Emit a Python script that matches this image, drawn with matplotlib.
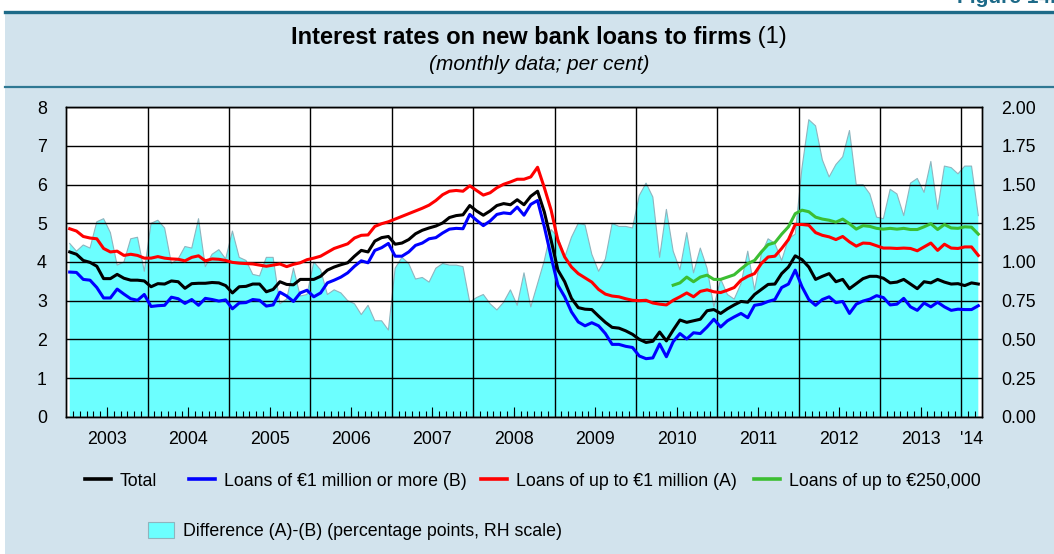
import numpy as np
import matplotlib
matplotlib.use("Agg")
import matplotlib.pyplot as plt
from matplotlib.lines import Line2D
from matplotlib.patches import Rectangle, Patch

plt.rcParams['font.family'] = ['Liberation Sans', 'DejaVu Sans']

# ---------------------------------------------------------------- data
# Monthly series, January 2003 - March 2014 (per cent)
START_YEAR = 2003
total = [
    4.26, 4.20, 4.04, 3.99, 3.89, 3.57, 3.57, 3.68, 3.58, 3.53, 3.53, 3.51,
    3.36, 3.44, 3.43, 3.51, 3.49, 3.32, 3.44, 3.45, 3.45, 3.47,
    3.46, 3.39, 3.20, 3.36, 3.37, 3.43, 3.43, 3.23, 3.29, 3.49, 3.42, 3.41,
    3.55, 3.55, 3.55, 3.63, 3.79, 3.87, 3.93, 3.98, 4.15, 4.30,
    4.26, 4.54, 4.63, 4.66, 4.46, 4.49, 4.58, 4.73, 4.82, 4.88, 4.93, 5.01,
    5.15, 5.20, 5.22, 5.46, 5.32, 5.21, 5.32, 5.46, 5.51, 5.48,
    5.61, 5.48, 5.70, 5.83, 5.29, 4.56, 3.79, 3.49, 3.06, 2.82, 2.78, 2.77,
    2.60, 2.44, 2.31, 2.29, 2.22, 2.13, 2.00, 1.92, 1.95, 2.19, 1.96,
    2.24, 2.50, 2.44, 2.48, 2.52, 2.74, 2.77, 2.67, 2.79, 2.89, 2.98, 2.96,
    3.16, 3.29, 3.42, 3.43, 3.70, 3.87, 4.16, 4.06, 3.87, 3.55,
    3.63, 3.70, 3.49, 3.55, 3.31, 3.44, 3.57, 3.63, 3.63, 3.58, 3.46, 3.48,
    3.55, 3.43, 3.31, 3.49, 3.46, 3.55, 3.48, 3.43, 3.44, 3.39, 3.46, 3.43,
]
large_loans_b = [
    3.74, 3.73, 3.55, 3.53, 3.34, 3.07, 3.07, 3.30, 3.17, 3.05, 3.01, 3.16,
    2.85, 2.87, 2.88, 3.09, 3.05, 2.93, 3.03, 2.88, 3.06, 3.03,
    2.99, 3.02, 2.79, 2.94, 2.95, 3.03, 3.01, 2.86, 2.89, 3.22, 3.12, 2.98,
    3.20, 3.27, 3.10, 3.20, 3.46, 3.53, 3.61, 3.72, 3.89, 4.03,
    3.98, 4.30, 4.37, 4.48, 4.15, 4.15, 4.26, 4.43, 4.49, 4.60, 4.63, 4.75,
    4.85, 4.87, 4.86, 5.23, 5.08, 4.94, 5.06, 5.23, 5.27, 5.25,
    5.42, 5.21, 5.49, 5.59, 4.91, 4.13, 3.40, 3.10, 2.71, 2.45, 2.35, 2.43,
    2.35, 2.15, 1.87, 1.87, 1.82, 1.79, 1.57, 1.50, 1.52, 1.88, 1.55,
    1.94, 2.15, 2.01, 2.17, 2.15, 2.32, 2.52, 2.32, 2.48, 2.58, 2.67, 2.56,
    2.88, 2.91, 2.98, 3.03, 3.34, 3.43, 3.79, 3.36, 3.03, 2.88,
    3.03, 3.10, 2.95, 2.98, 2.67, 2.91, 2.99, 3.04, 3.13, 3.08, 2.89, 2.91,
    3.06, 2.84, 2.75, 2.94, 2.84, 2.96, 2.84, 2.75, 2.78, 2.77, 2.77, 2.87,
]
small_loans_a = [
    4.86, 4.80, 4.66, 4.62, 4.60, 4.35, 4.26, 4.28, 4.17, 4.20, 4.17, 4.10,
    4.10, 4.14, 4.10, 4.08, 4.07, 4.03, 4.12, 4.16, 4.03, 4.08,
    4.07, 4.04, 3.99, 3.97, 3.96, 3.95, 3.92, 3.89, 3.92, 3.95, 3.88, 3.94,
    3.98, 4.06, 4.10, 4.15, 4.25, 4.35, 4.41, 4.47, 4.62, 4.69,
    4.70, 4.92, 4.99, 5.04, 5.11, 5.18, 5.25, 5.32, 5.39, 5.47, 5.59, 5.74,
    5.83, 5.85, 5.83, 5.97, 5.85, 5.73, 5.79, 5.92, 6.01, 6.07,
    6.14, 6.14, 6.20, 6.45, 5.92, 5.34, 4.56, 4.13, 3.87, 3.70, 3.59, 3.48,
    3.29, 3.17, 3.12, 3.10, 3.05, 3.01, 3.00, 3.01, 2.94, 2.91, 2.89,
    3.01, 3.10, 3.20, 3.10, 3.24, 3.28, 3.23, 3.21, 3.27, 3.34, 3.53, 3.63,
    3.70, 3.96, 4.13, 4.15, 4.35, 4.58, 4.97, 4.97, 4.95, 4.76,
    4.69, 4.65, 4.58, 4.66, 4.52, 4.41, 4.49, 4.48, 4.42, 4.36, 4.36, 4.35,
    4.36, 4.35, 4.29, 4.39, 4.49, 4.30, 4.46, 4.36, 4.35, 4.39, 4.39, 4.17,
]
# Loans up to EUR 250,000: available from June 2010 (month index 89)
SMALLEST_START = 89
smallest_loans = [
    3.40, 3.46, 3.61, 3.49, 3.61, 3.66, 3.55, 3.55, 3.61, 3.67, 3.82,
    3.96, 4.04, 4.26, 4.45, 4.50, 4.72, 4.91, 5.25, 5.34, 5.30, 5.16,
    5.11, 5.08, 5.03, 5.11, 4.99, 4.85, 4.94, 4.92, 4.87, 4.85, 4.87, 4.85,
    4.87, 4.84, 4.84, 4.91, 4.99, 4.84, 4.97, 4.88, 4.87, 4.91, 4.90, 4.72,
]
year_labels = ['2003', '2004', '2005', '2006', '2007', '2008', '2009',
               '2010', '2011', '2012', '2013', "'14"]
left_ticks = [0, 1, 2, 3, 4, 5, 6, 7, 8]
right_ticks = [0.0, 0.25, 0.5, 0.75, 1.0, 1.25, 1.5, 1.75, 2.0]

legend_labels = ['Total', 'Loans of €1 million or more (B)',
                 'Loans of up to €1 million (A)', 'Loans of up to €250,000',
                 'Difference (A)-(B) (percentage points, RH scale)']

# ---------------------------------------------------------------- derived
n_months = len(total)
x = START_YEAR + (np.arange(n_months) + 0.5) / 12.0
x_small = x[SMALLEST_START:SMALLEST_START + len(smallest_loans)]
spread = np.array(small_loans_a) - np.array(large_loans_b)
x_end = START_YEAR + n_months / 12.0

# ---------------------------------------------------------------- figure
W, H = 1054, 554
BG = '#D2E3ED'
TEAL = '#1D6A88'
CYAN = '#6CFFFF'
fig = plt.figure(figsize=(W / 100, H / 100), dpi=100, facecolor='white')

fig.patches.append(Rectangle((5 / W, 0), 1 - 5 / W, 1 - 13 / H,
                             transform=fig.transFigure, facecolor=BG,
                             edgecolor='none', zorder=-5))
fig.add_artist(Line2D([5 / W, 1], [1 - 11.5 / H] * 2, transform=fig.transFigure,
                      color=TEAL, lw=2.4))
fig.add_artist(Line2D([5 / W, 1], [1 - 86.5 / H] * 2, transform=fig.transFigure,
                      color='#2F7893', lw=1.6))
fig.text(957 / W, 1 - 3 / H, 'Figure 14.', color=TEAL, fontsize=15,
         fontweight='bold', ha='left', va='baseline')

# title: bold main part followed by the note reference in regular weight
t1 = fig.text(0, 1 - 37 / H, 'Interest rates on new bank loans to firms',
              fontsize=17, fontweight='bold', ha='left', va='center')
t2 = fig.text(0, 1 - 37 / H, ' (1)', fontsize=17, ha='left', va='center')
renderer = fig.canvas.get_renderer()
w1 = t1.get_window_extent(renderer).width
w2 = t2.get_window_extent(renderer).width
x0 = 539 - (w1 + w2) / 2
t1.set_x(x0 / W)
t2.set_x((x0 + w1) / W)
fig.text(539 / W, 1 - 64 / H, '(monthly data; per cent)', fontsize=15,
         fontstyle='italic', ha='center', va='center')

# ---------------------------------------------------------------- axes
L, R, T, B = 66.3, 981.7, 107.3, 416.7
ax = fig.add_axes([L / W, 1 - B / H, (R - L) / W, (B - T) / H])
ax2 = ax.twinx()
ax.set_zorder(ax2.get_zorder() + 1)
ax.patch.set_visible(False)
ax2.patch.set_visible(True)
ax2.patch.set_facecolor('white')

# spread area on the right-hand scale
ax2.fill_between(x, 0, spread, facecolor=CYAN, edgecolor='none', lw=0)
ax2.plot(x, spread, color='#8FB4BE', lw=0.8)
ax2.set_ylim(0, 2)
ax2.set_yticks(right_ticks)
ax2.set_yticklabels([f'{v:.2f}' for v in right_ticks])

# rate lines on the left-hand scale
ax.plot(x, total, color='black', lw=2.2)
ax.plot(x, large_loans_b, color='#0000FF', lw=2.2)
ax.plot(x, small_loans_a, color='#FF0000', lw=2.2)
ax.plot(x_small, smallest_loans, color='#3CBE32', lw=2.2)
ax.set_ylim(0, 8)
ax.set_yticks(left_ticks)
ax.set_xlim(START_YEAR, x_end)

years = np.arange(START_YEAR + 1, int(x_end) + 1)
ax.set_xticks(years)
ax.set_xticklabels([])
ax.set_xticks(START_YEAR + np.arange(1, int(round((x_end - START_YEAR) * 12))) / 12.0,
              minor=True)
ax.grid(True, which='major', color='black', lw=1.0)
ax.tick_params(axis='x', which='major', length=0)
ax.tick_params(axis='x', which='minor', direction='in', length=4, width=0.8,
               color='black')
ax.tick_params(axis='y', length=0, labelsize=12.8, pad=14)
ax2.tick_params(axis='y', length=0, labelsize=12.8, pad=14)

# taller ticks at mid-year
mid = ax.secondary_xaxis('bottom')
mid.set_xticks(np.arange(START_YEAR, int(x_end)) + 0.5)
mid.set_xticklabels([])
mid.tick_params(axis='x', direction='in', length=7, width=0.8, color='black')
mid.spines['bottom'].set_visible(False)

# year labels centred on each (partial) year
lab = ax.secondary_xaxis('bottom')
label_pos = [min(y + 1, x_end) for y in range(START_YEAR, int(x_end) + 1)]
label_pos = [(y + e) / 2 for y, e in zip(range(START_YEAR, int(x_end) + 1), label_pos)]
lab.set_xticks(label_pos)
lab.set_xticklabels(year_labels)
lab.tick_params(axis='x', length=0, labelsize=12.8, pad=10)
lab.spines['bottom'].set_visible(False)

for a in (ax, ax2):
    for s in a.spines.values():
        s.set_color('black')
        s.set_linewidth(1.0)

# ---------------------------------------------------------------- legend
handles = [Line2D([], [], color='black', lw=2.6),
           Line2D([], [], color='#0000FF', lw=2.6),
           Line2D([], [], color='#FF0000', lw=2.6),
           Line2D([], [], color='#3CBE32', lw=2.6),
           Patch(facecolor=CYAN, edgecolor='#8FB4BE', lw=0.8)]
slots = [(85, 481), (189, 481), (481, 481), (754, 481), (148, 531)]
for h, lbl, (px, py) in zip(handles, legend_labels, slots):
    fig.legend(handles=[h], labels=[lbl], loc='center left',
               bbox_to_anchor=(px / W, 1 - py / H), frameon=False,
               borderpad=0, borderaxespad=0, handlelength=1.45,
               handleheight=1.0, handletextpad=0.5, fontsize=12.8)

fig.savefig('out.png', dpi=100, facecolor='white')
